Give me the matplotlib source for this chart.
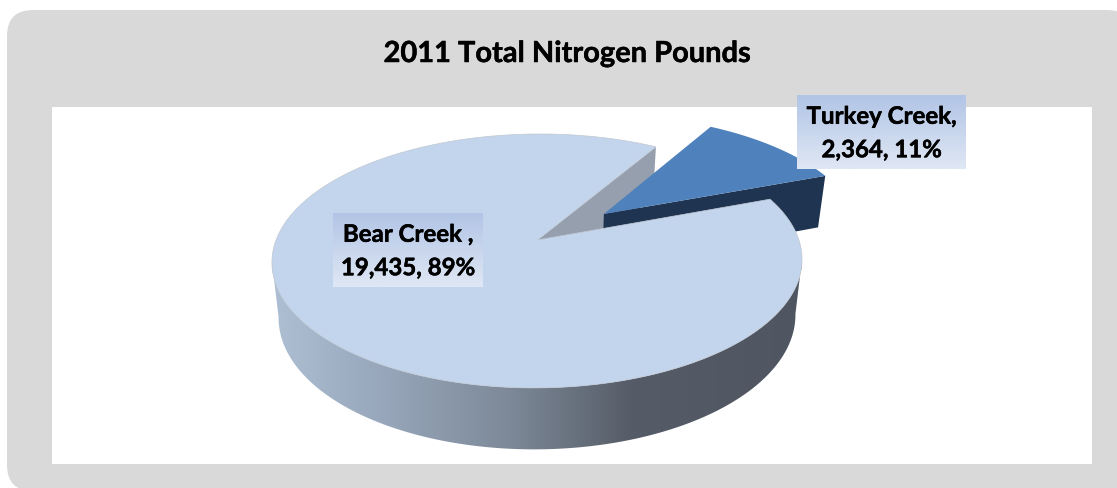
import numpy as np
import matplotlib
matplotlib.use('Agg')
import matplotlib.pyplot as plt
import matplotlib.patheffects as pe
from matplotlib.patches import FancyBboxPatch, Polygon, Rectangle
from matplotlib.colors import LinearSegmentedColormap

# data
title = '2011 Total Nitrogen Pounds'
categories = ['Bear Creek', 'Turkey Creek']
pounds = [19435, 2364]
labels = ['Bear Creek ,\n19,435, 89%', 'Turkey Creek,\n2,364, 11%']

# pie geometry, in pixels of the picture
apex_x, apex_y = 537.5, 240.0
radius_x, radius_y = 261.4, 123.5
persp = 0.165
lean = 3.0
first_angle = 30.5   # clockwise from north, where Turkey Creek starts
explode = 0.34
depth0, depth1 = 54.5, 0.047
shrink = 0.975

plt.rcParams['font.family'] = ['Lato', 'DejaVu Sans']
fig = plt.figure(figsize=(11.17, 4.89), dpi=100)
ax = fig.add_axes([0, 0, 1, 1])
ax.axis('off')
heavier = [pe.withStroke(linewidth=0.35, foreground='black')]


def top_xy(wx, wy):
    # flat disc seen in perspective
    den = 1 + persp * wy
    return apex_x + (radius_x * wx + lean * wy) / den, apex_y - radius_y * wy / den


def bottom_xy(x, y):
    return apex_x + (x - apex_x) * shrink, y + depth0 + depth1 * (y - apex_y)


def arc(a0, a1, dx=0.0, dy=0.0, n=400):
    t = np.radians(np.linspace(a0, a1, n))
    return top_xy(np.sin(t) + dx, np.cos(t) + dy)


sweep = 360.0 * pounds[1] / sum(pounds)
last_angle = first_angle + sweep
mid = np.radians(first_angle + sweep / 2)
off_x, off_y = explode * np.sin(mid), explode * np.cos(mid)

# panel
ax.add_patch(FancyBboxPatch((7 + 26, 10 + 26), 1126 - 52, 481 - 52,
                            boxstyle='round,pad=26,rounding_size=26',
                            fc='#d9d9d9', ec='none', zorder=1))
ax.add_patch(Rectangle((52, 107), 1040, 357, fc='white', ec='none', zorder=2))
ax.text(567, 54, title, fontsize=20.9, fontweight='bold', color='black',
        ha='center', va='center', zorder=10, path_effects=heavier)

# side wall of the big slice, a shaded band clipped to the wall outline
rx, ry = arc(last_angle, first_angle + 360)
i0, i1 = np.argmax(rx), np.argmin(rx)
rx, ry = rx[i0:i1 + 1], ry[i0:i1 + 1]
bx, by = bottom_xy(rx, ry)
wall = np.vstack([np.column_stack([rx, ry]), np.column_stack([bx, by])[::-1]])
wall_cmap = LinearSegmentedColormap.from_list('wall', [
    (0.00, '#aebfd4'), (0.22, '#96a5b9'), (0.45, '#7d8998'),
    (0.68, '#555c67'), (1.00, '#4f5661')])
im = ax.imshow(np.linspace(0, 1, 256).reshape(1, -1), cmap=wall_cmap, aspect='auto',
               extent=(272, 802, 489, 0), zorder=3)
clip = Polygon(wall, closed=True, transform=ax.transData, fc='none', ec='none')
ax.add_patch(clip)
im.set_clip_path(clip)

# cut face of the big slice next to the gap
ex, ey = top_xy(np.sin(np.radians(first_angle)), np.cos(np.radians(first_angle)))
bex, bey = bottom_xy(ex, ey)
bax, bay = bottom_xy(apex_x, apex_y)
ax.add_patch(Polygon([(apex_x, apex_y), (ex, ey), (bex, bey), (bax, bay)],
                     fc='#959fad', ec='none', zorder=4))

# Turkey Creek, pulled out of the pie
cx0, cy0 = top_xy(off_x, off_y)
tx, ty = arc(first_angle, last_angle, off_x, off_y)
c1x, c1y = tx[-1], ty[-1]
b0x, b0y = bottom_xy(cx0, cy0)
b1x, b1y = bottom_xy(c1x, c1y)
ax.add_patch(Polygon([(cx0, cy0), (c1x, c1y), (b1x, b1y), (b0x, b0y)],
                     fc='#1f3450', ec='none', zorder=5))
ax.add_patch(Polygon(np.vstack([[(cx0, cy0)], np.column_stack([tx, ty])]),
                     fc='#4f81bd', ec='none', zorder=6))

# top of the big slice
mx, my = arc(last_angle, first_angle + 360)
ax.add_patch(Polygon(np.vstack([[(apex_x, apex_y)], np.column_stack([mx, my])]),
                     fc='#c3d5ed', ec='#c0c8d2', lw=0.5, zorder=7))


def label_box(x0, y0, x1, y1, text):
    cmap = LinearSegmentedColormap.from_list('lab', ['#b2c5e6', '#dfe7f4'])
    ax.imshow(np.linspace(0, 1, 64).reshape(-1, 1), cmap=cmap, aspect='auto',
              extent=(x0, x1, y1, y0), zorder=8)
    ax.text((x0 + x1) / 2, (y0 + y1) / 2 + 1, text, fontsize=17.3, fontweight='bold',
            color='black', ha='center', va='center', linespacing=1.55, zorder=9,
            path_effects=heavier)


label_box(333, 213, 483, 287, labels[0])
label_box(797, 95, 966, 169, labels[1])
ax.set_xlim(0, 1117)
ax.set_ylim(488, -1)

fig.savefig('out.png', dpi=100)
